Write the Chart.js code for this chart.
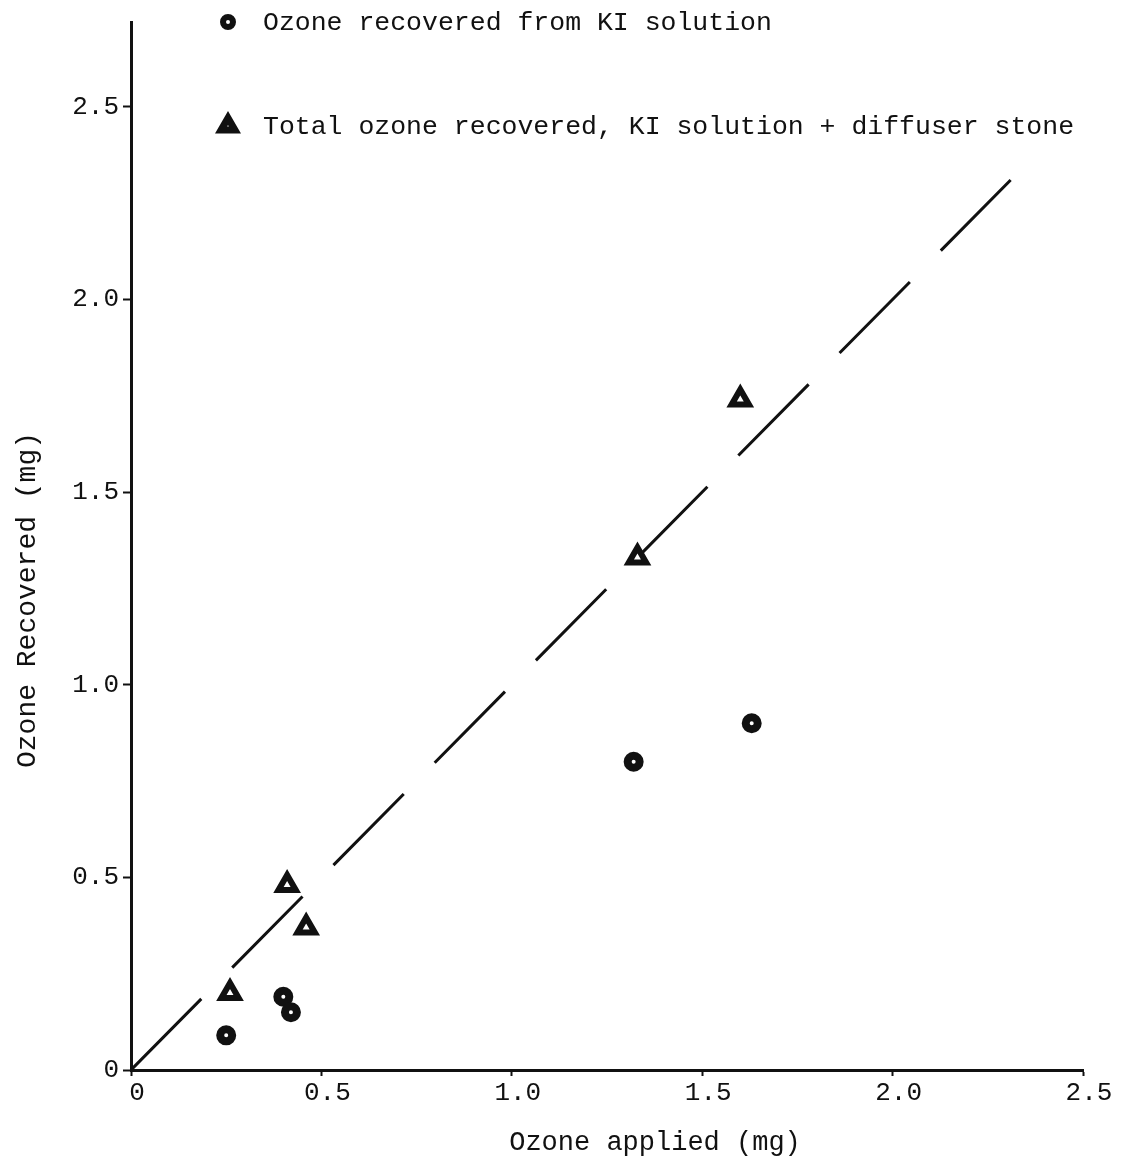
<!DOCTYPE html>
<html>
<head>
<meta charset="utf-8">
<script src="https://cdn.jsdelivr.net/npm/chart.js@4"></script>
<style>
  html, body { margin: 0; padding: 0; background: #fff; }
  #wrap { width: 1125px; height: 1166px; position: relative; }
</style>
</head>
<body>
<div id="wrap"><canvas id="chart"></canvas></div>
<script>
// values (mg)
var kiApplied = [0.25, 0.40, 0.42, 1.32, 1.63];
var kiRecovered = [0.09, 0.19, 0.15, 0.80, 0.90];
var totalApplied = [0.26, 0.41, 0.46, 1.33, 1.60];
var totalRecovered = [0.20, 0.48, 0.37, 1.33, 1.74];
var lineX = [0, 2.31];
var lineY = [0, 2.31];
var tickValues = [0, 0.5, 1.0, 1.5, 2.0, 2.5];
var xTitle = 'Ozone applied (mg)';
var yTitle = 'Ozone Recovered (mg)';

var ink = '#111';
var font = 'Liberation Mono, Courier New, monospace';

function pts(xs, ys) {
    return xs.map(function (x, i) { return { x: x, y: ys[i] }; });
}

function tickLabel(v) {
    return v === 0 ? '0' : v.toFixed(1);
}

// legend + axis titles drawn by hand, placed like the original
var extrasPlugin = {
    id: 'extras',
    afterDraw: function (chart) {
        var ctx = chart.ctx;
        var items = [
            { ds: chart.data.datasets[0], x: 228, y: 22 },
            { ds: chart.data.datasets[1], x: 228, y: 126 }
        ];
        ctx.save();
        items.forEach(function (it) {
            ctx.lineWidth = it.ds.legendBorder;
            ctx.strokeStyle = ink;
            ctx.fillStyle = '#fff';
            Chart.helpers.drawPoint(ctx, {
                pointStyle: it.ds.pointStyle,
                radius: it.ds.legendRadius,
                borderWidth: it.ds.legendBorder,
                rotation: 0
            }, it.x, it.y);
            ctx.fillStyle = ink;
            ctx.font = '26.5px ' + font;
            ctx.textBaseline = 'middle';
            ctx.textAlign = 'left';
            ctx.fillText(it.ds.label, 263, it.y + 1);
        });

        ctx.font = '27px ' + font;
        ctx.textAlign = 'center';
        ctx.textBaseline = 'middle';
        ctx.fillText(xTitle, 655, 1143);

        ctx.translate(28, 600);
        ctx.rotate(-Math.PI / 2);
        ctx.font = '28px ' + font;
        ctx.fillText(yTitle, 0, 0);
        ctx.restore();
    }
};

var ctx = document.getElementById('chart').getContext('2d');
new Chart(ctx, {
    type: 'scatter',
    data: {
        datasets: [{
            label: 'Ozone recovered from KI solution',
            data: pts(kiApplied, kiRecovered),
            pointStyle: 'circle',
            pointRadius: 6,
            borderWidth: 8,
            legendRadius: 5,
            legendBorder: 6,
            borderColor: ink,
            backgroundColor: '#fff'
        }, {
            label: 'Total ozone recovered, KI solution + diffuser stone',
            data: pts(totalApplied, totalRecovered),
            pointStyle: 'triangle',
            pointRadius: 10,
            borderWidth: 6,
            legendRadius: 8,
            legendBorder: 7,
            borderColor: ink,
            backgroundColor: '#fff'
        }, {
            label: 'equal line',
            data: pts(lineX, lineY),
            showLine: true,
            pointRadius: 0,
            borderColor: ink,
            borderWidth: 3,
            borderDash: [100, 44]
        }]
    },
    options: {
        responsive: true,
        maintainAspectRatio: false,
        animation: false,
        layout: { padding: { top: 22, right: 42, left: 0, bottom: 0 } },
        plugins: {
            legend: { display: false },
            tooltip: { enabled: false }
        },
        scales: {
            x: {
                type: 'linear',
                min: 0,
                max: 2.5,
                afterBuildTicks: function (s) { s.ticks = tickValues.map(function (v) { return { value: v }; }); },
                afterFit: function (s) { s.height = 96; },
                border: { color: ink, width: 3 },
                grid: { drawOnChartArea: false, color: ink, tickLength: 6, tickWidth: 2 },
                ticks: {
                    color: ink,
                    padding: 2,
                    labelOffset: 6,
                    maxRotation: 0,
                    font: { family: font, size: 26 },
                    callback: function (v) { return tickLabel(v); }
                }
            },
            y: {
                type: 'linear',
                min: 0,
                max: 2.72,
                afterBuildTicks: function (s) { s.ticks = tickValues.map(function (v) { return { value: v }; }); },
                afterFit: function (s) { s.width = 131; },
                border: { color: ink, width: 3 },
                grid: { drawOnChartArea: false, color: ink, tickLength: 8, tickWidth: 2 },
                ticks: {
                    color: ink,
                    padding: 4,
                    font: { family: font, size: 26 },
                    callback: function (v) { return tickLabel(v); }
                }
            }
        }
    },
    plugins: [extrasPlugin]
});
</script>
</body>
</html>
